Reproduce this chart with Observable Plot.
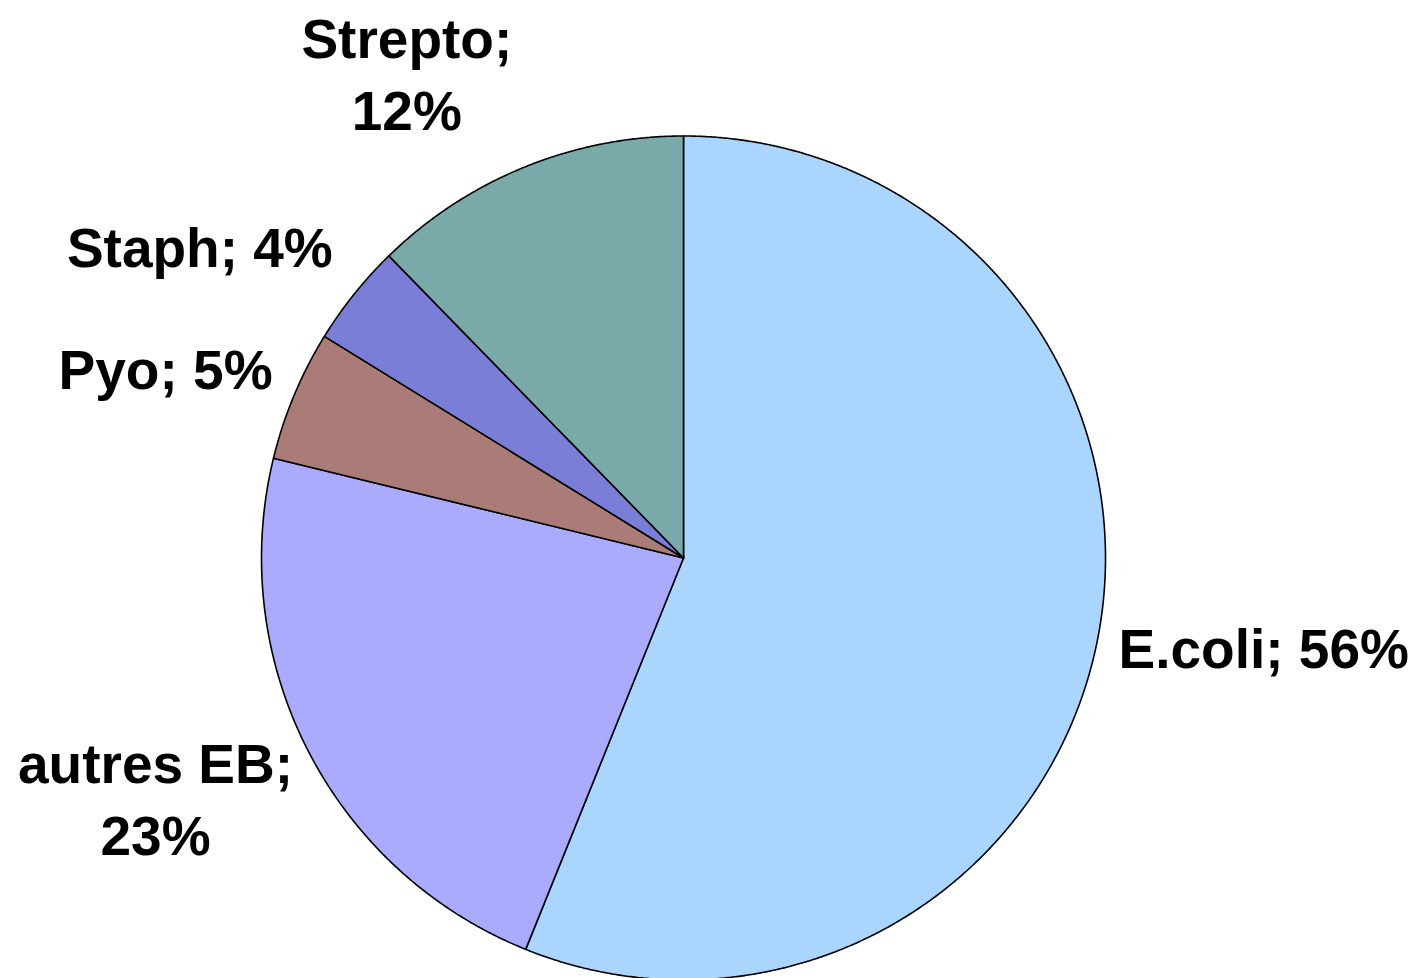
<!DOCTYPE html>
<html>
<head>
<meta charset="utf-8">
<script src="https://cdn.jsdelivr.net/npm/d3@7"></script>
<script src="https://cdn.jsdelivr.net/npm/@observablehq/plot@0.6"></script>
<style>
  html, body { margin: 0; padding: 0; background: #fff; }
  #chart svg { display: block; }
</style>
</head>
<body>
<div id="chart"></div>
<script>
// ---- data (shares; labels show the rounded %) ----
const categories = ["E.coli", "autres EB", "Pyo", "Staph", "Strepto"];
const shares = [56.1, 22.7, 5.0, 3.9, 12.3];
const sliceColors = ["#AAD5FE", "#AAAAFE", "#AA7B77", "#7B7ED6", "#79A9A8"];

// ---- layout ----
const W = 1413, H = 978;
const cx = 683, cy = 557.5, R = 422;   // pie centre and radius in pixels
const fontSize = 55, lineHeight = 1.31;
const fontFamily = "Liberation Sans, Arial, sans-serif";

const ctx = document.createElement("canvas").getContext("2d");
ctx.font = `bold ${fontSize}px ${fontFamily}`;
const measure = s => ctx.measureText(s).width;

const total = d3.sum(shares);
const arcs = d3.pie().sort(null).value(d => d)(shares);

// slice outlines in unit coordinates (y up), angle clockwise from 12 o'clock
const outline = [];
arcs.forEach((a, i) => {
  const name = categories[i];
  outline.push({name, x: 0, y: 0});
  const n = Math.max(2, Math.ceil((a.endAngle - a.startAngle) / (Math.PI / 720)));
  for (let k = 0; k <= n; ++k) {
    const t = a.startAngle + (a.endAngle - a.startAngle) * k / n;
    outline.push({name, x: Math.sin(t), y: Math.cos(t)});
  }
  outline.push({name, x: 0, y: 0});
});

// labels: placed just outside the slice's mid-angle, lines centred in the block
const labels = arcs.map((a, i) => {
  const m = (a.startAngle + a.endAngle) / 2;
  const s = Math.sin(m), c = Math.cos(m);
  const pct = Math.round(shares[i] / total * 100);
  const full = `${categories[i]}; ${pct}%`;
  const text = measure(full) > 5.9 * fontSize ? `${categories[i]};\n${pct}%` : full;
  const lines = text.split("\n");
  const w = Math.max(...lines.map(measure));
  const h = (0.716 + (lines.length - 1) * lineHeight) * fontSize;
  const k = 1.05 + 0.04 * Math.max(c, 0) - (s < 0 ? 0.01 : 0);
  const dy = c < 0 ? -c * (1.825 * h / 2 - 20) : -c * (0.503 * h / 2 + 43.5);
  return {
    text,
    x: k * s,
    y: k * c,
    dx: (s >= 0 ? 1 : -1) * w / 2,
    dy
  };
});

const chart = Plot.plot({
  width: W,
  height: H,
  margin: 0,
  x: {domain: [-cx / R, (W - cx) / R], axis: null},
  y: {domain: [-(H - cy) / R, cy / R], axis: null},
  color: {domain: categories, range: sliceColors},
  style: {background: "#fff"},
  marks: [
    Plot.line(outline, {
      x: "x", y: "y", z: "name", fill: "name",
      stroke: "#000", strokeWidth: 1.6, strokeLinejoin: "round", curve: "linear"
    }),
    ...labels.map(l => Plot.text([l], {
      x: "x", y: "y", text: "text",
      dx: l.dx, dy: l.dy,
      textAnchor: "middle", lineAnchor: "middle",
      lineHeight, fontFamily, fontWeight: "bold", fontSize, fill: "#000"
    }))
  ]
});

document.getElementById("chart").append(chart);
</script>
</body>
</html>
